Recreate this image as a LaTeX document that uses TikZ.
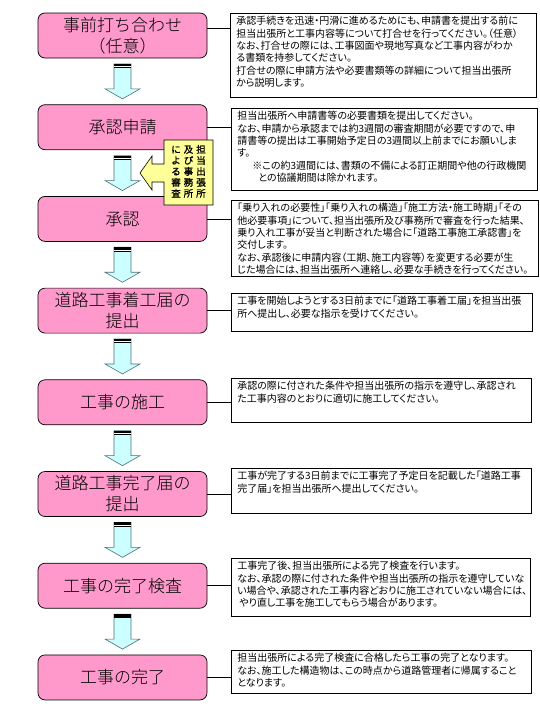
\documentclass[tikz,border=0pt]{standalone}
\usepackage{fontspec}
\usetikzlibrary{positioning,calc}
\newfontfamily\jpfont{Noto Sans CJK JP Light}
\newfontfamily\jpbold{Noto Sans CJK JP}[FakeBold=1.2]
\newfontfamily\jpnote{Noto Sans CJK JP}[CharacterWidth=AlternateProportional]
\definecolor{stepfill}{HTML}{FF99CC}
\definecolor{arrowfill}{HTML}{CCFFFF}
\definecolor{arrowline}{HTML}{4F6E75}
\definecolor{callfill}{HTML}{FFFF99}
\newcommand\notetext[3]{\parbox[c][#1][t]{#2}{#3}}
\newcommand\flowarrow[2]{%
  \begin{scope}[shift={($(#1.south)!.5!(#2.north)$)}]
    \draw[draw=arrowline,fill=arrowfill,line width=.6pt](-8.5,-17.5)--(8.5,-17.5)--(8.5,7.5)--(17.5,7.5)--(0,17.5)--(-17.5,7.5)--(-8.5,7.5)--cycle;
    \fill(-8.5,-17.5)rectangle(8.5,-15);\fill[white](-8.5,-15)rectangle(8.5,-14.2);
    \draw[line width=.7pt](-8.5,-13.8)--(8.5,-13.8);
  \end{scope}}

\begin{document}
\begin{tikzpicture}[x=1pt,y=-1pt,node distance=46pt,
stepbox/.style={draw,line width=.7pt,rounded corners=7pt,fill=stepfill,minimum width=169pt,minimum height=45pt,align=center,inner sep=0pt,font=\jpfont\fontsize{17pt}{21pt}\selectfont},
note/.style={draw,line width=.6pt,fill=white,anchor=north west,inner xsep=6pt,inner ysep=3pt,font=\jpnote\fontsize{10pt}{12.4pt}\selectfont},
link/.style={line width=.6pt}]
\path[use as bounding box,fill=white](0,0)rectangle(540,720);
% flow steps
\node[stepbox](s1)at(122.5,35.5){事前打ち合わせ\\（任意）};
\node[stepbox,below=of s1](s2){承認申請};
\node[stepbox,below=of s2](s3){承認};
\node[stepbox,below=of s3](s4){道路工事着工届の\\提出};
\node[stepbox,below=of s4](s5){工事の施工};
\node[stepbox,below=of s5](s6){道路工事完了届の\\提出};
\node[stepbox,below=of s6](s7){工事の完了検査};
\node[stepbox,below=of s7](s8){工事の完了};
\flowarrow{s1}{s2}\flowarrow{s2}{s3}\flowarrow{s3}{s4}\flowarrow{s4}{s5}
\flowarrow{s5}{s6}\flowarrow{s6}{s7}\flowarrow{s7}{s8}
% notes
\node[note](t1)at(230,13){\notetext{78pt}{294pt}{承認手続きを迅速・円滑に進めるためにも、申請書を提出する前に\\担当出張所と工事内容等について打合せを行ってください。（任意）\\なお、打合せの際には、工事図面や現地写真など工事内容がわか\\る書類を持参してください。\\打合せの際に申請方法や必要書類等の詳細について担当出張所\\から説明します。}};
\node[note](t2)at(231,108){\notetext{76pt}{294pt}{担当出張所へ申請書等の必要書類を提出してください。\\なお、申請から承認までは約3週間の審査期間が必要ですので、申\\請書等の提出は工事開始予定日の3週間以上前までにお願いしま\\す。\\\hspace*{15pt}※この約3週間には、書類の不備による訂正期間や他の行政機関\\\hspace*{21pt}との協議期間は除かれます。}};
\node[note](t3)at(231,200){\notetext{70pt}{295pt}{「乗り入れの必要性」「乗り入れの構造」「施工方法・施工時期」「その\\他必要事項」について、担当出張所及び事務所で審査を行った結果、\\乗り入れ工事が妥当と判断された場合に「道路工事施工承認書」を\\交付します。\\なお、承認後に申請内容（工期、施工内容等）を変更する必要が生\\じた場合には、担当出張所へ連絡し、必要な手続きを行ってください。}};
\node[note](t4)at(231,293){\notetext{32pt}{289pt}{工事を開始しようとする3日前までに「道路工事着工届」を担当出張\\所へ提出し、必要な指示を受けてください。}};
\node[note](t5)at(231,378){\notetext{38pt}{288pt}{承認の際に付された条件や担当出張所の指示を遵守し、承認され\\た工事内容のとおりに適切に施工してください。}};
\node[note](t6)at(231,468){\notetext{39pt}{288pt}{工事が完了する3日前までに工事完了予定日を記載した「道路工事\\完了届」を担当出張所へ提出してください。}};
\node[note](t7)at(231,558){\notetext{52pt}{287pt}{工事完了後、担当出張所による完了検査を行います。\\なお、承認の際に付された条件や担当出張所の指示を遵守していな\\い場合や、承認された工事内容どおりに施工されていない場合には、\\\hspace*{2pt}やり直し工事を施工してもらう場合があります。}};
\node[note](t8)at(231,650){\notetext{37pt}{288pt}{担当出張所による完了検査に合格したら工事の完了となります。\\なお、施工した構造物は、この時点から道路管理者に帰属すること\\となります。}};
\draw[link]([yshift=7.5pt]s1.east)--([yshift=7.5pt]s1.east-|t1.west);
\foreach \i in {2,...,8}{\draw[link](s\i.east)--(s\i.east-|t\i.west);}
% review callout
\draw[fill=callfill,line width=.6pt](213,140)--(164,140)--(164,164)--(152,164)--(152,156)--(140,173)--(152,190)--(152,182)--(164,182)--(164,205)--(213,205)--cycle;
\node[inner sep=0pt,font=\jpbold\fontsize{9.5pt}{10pt}\selectfont](review)at(188.5,172.5){\setlength\tabcolsep{1.5pt}\begin{tabular}{ccc}に&及&担\\よ&び&当\\る&事&出\\審&務&張\\査&所&所\end{tabular}};
\end{tikzpicture}
\end{document}
